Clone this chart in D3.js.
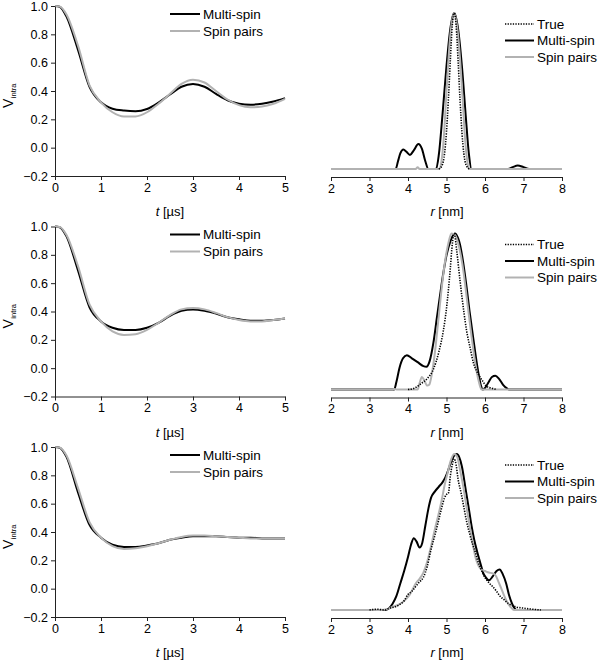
<!DOCTYPE html>
<html><head><meta charset="utf-8">
<script src="https://cdn.jsdelivr.net/npm/d3@7"></script>
<style>body{margin:0;background:#fff}svg{display:block}text{font-family:"Liberation Sans",Arial,sans-serif;fill:#000}</style>
</head><body>
<script>
// ---------- data ----------
const tValues = [0,0.1,0.25,0.5,0.75,1,1.25,1.5,1.75,2,2.25,2.5,2.75,3,3.25,3.5,3.75,4,4.25,4.5,4.75,5];
const multiSpinV = [
  [1,0.995,0.925,0.69,0.43,0.32,0.275,0.262,0.257,0.273,0.318,0.375,0.43,0.45,0.43,0.38,0.335,0.31,0.303,0.31,0.326,0.35],
  [1,0.995,0.93,0.69,0.43,0.33,0.285,0.27,0.27,0.285,0.32,0.37,0.405,0.415,0.405,0.385,0.36,0.345,0.335,0.335,0.34,0.35],
  [1,0.995,0.93,0.68,0.45,0.36,0.31,0.295,0.295,0.305,0.32,0.345,0.36,0.37,0.37,0.37,0.365,0.36,0.36,0.355,0.355,0.355]
];
const spinPairsV = [
  [1,0.997,0.94,0.72,0.44,0.32,0.25,0.22,0.22,0.25,0.31,0.38,0.45,0.48,0.46,0.40,0.34,0.30,0.285,0.29,0.31,0.345],
  [1,0.997,0.94,0.72,0.45,0.33,0.26,0.235,0.24,0.27,0.32,0.375,0.415,0.425,0.415,0.39,0.36,0.34,0.33,0.33,0.34,0.35],
  [1,0.997,0.94,0.71,0.47,0.36,0.30,0.28,0.285,0.30,0.32,0.345,0.365,0.375,0.375,0.37,0.365,0.36,0.355,0.355,0.355,0.355]
];
const trueP = [
  [[4.8,0],[4.88,0.02],[4.95,0.1],[5.0,0.24],[5.05,0.45],[5.1,0.7],[5.15,0.92],[5.2,1.0],[5.25,0.92],[5.3,0.7],[5.35,0.45],[5.4,0.24],[5.45,0.1],[5.52,0.02],[5.6,0]],
  [[4.0,0],[4.18,0.01],[4.35,0.04],[4.5,0.07],[4.66,0.13],[4.8,0.24],[4.92,0.38],[5.0,0.52],[5.05,0.64],[5.1,0.78],[5.15,0.93],[5.2,1.0],[5.27,0.88],[5.35,0.7],[5.45,0.5],[5.52,0.38],[5.62,0.26],[5.7,0.17],[5.8,0.11],[5.87,0.08],[5.95,0.05],[6.04,0.02],[6.15,0.01],[6.3,0]],
  [[3.0,0],[3.2,0.005],[3.4,0.0],[3.5,0.01],[3.75,0.03],[3.9,0.06],[4.0,0.1],[4.1,0.12],[4.2,0.15],[4.3,0.18],[4.4,0.21],[4.5,0.28],[4.6,0.39],[4.7,0.48],[4.8,0.58],[4.88,0.66],[4.95,0.72],[5.0,0.74],[5.05,0.75],[5.1,0.86],[5.15,0.93],[5.2,0.97],[5.25,0.93],[5.3,0.84],[5.38,0.75],[5.45,0.66],[5.52,0.57],[5.6,0.49],[5.68,0.42],[5.75,0.37],[5.82,0.31],[5.9,0.26],[5.97,0.22],[6.05,0.19],[6.12,0.17],[6.2,0.15],[6.3,0.12],[6.4,0.086],[6.5,0.065],[6.6,0.043],[6.7,0.03],[6.8,0.02],[7.0,0.012],[7.2,0.006],[7.45,0]]
];
const multiSpinP = [
  [[2,0],[3.68,0],[3.74,0.05],[3.8,0.1],[3.88,0.125],[3.96,0.11],[4.05,0.09],[4.15,0.12],[4.27,0.16],[4.36,0.13],[4.45,0.05],[4.53,0],[4.73,0],[4.8,0.09],[4.9,0.36],[5.0,0.66],[5.1,0.9],[5.2,1.0],[5.3,0.9],[5.4,0.66],[5.5,0.34],[5.58,0.1],[5.65,0],[6.6,0],[6.72,0.012],[6.85,0.022],[7.0,0.012],[7.15,0],[8,0]],
  [[2,0],[3.64,0],[3.7,0.05],[3.78,0.14],[3.87,0.2],[3.97,0.22],[4.1,0.2],[4.25,0.175],[4.4,0.15],[4.48,0.146],[4.56,0.18],[4.66,0.3],[4.75,0.46],[4.83,0.6],[4.92,0.75],[5.0,0.86],[5.1,0.95],[5.22,1.0],[5.3,0.97],[5.35,0.93],[5.43,0.82],[5.52,0.66],[5.6,0.5],[5.7,0.32],[5.78,0.18],[5.84,0.09],[5.9,0.02],[5.94,0],[6.0,0.01],[6.1,0.05],[6.18,0.08],[6.27,0.088],[6.36,0.07],[6.47,0.03],[6.58,0.005],[6.62,0],[8,0]],
  [[2,0],[3.4,0],[3.5,0.01],[3.6,0.04],[3.7,0.09],[3.8,0.17],[3.9,0.25],[4.0,0.34],[4.08,0.42],[4.15,0.46],[4.22,0.44],[4.3,0.4],[4.37,0.43],[4.45,0.54],[4.53,0.65],[4.6,0.72],[4.7,0.76],[4.8,0.79],[4.9,0.82],[4.97,0.85],[5.05,0.9],[5.12,0.95],[5.2,0.99],[5.27,1.0],[5.33,0.98],[5.4,0.92],[5.5,0.77],[5.58,0.65],[5.65,0.54],[5.72,0.45],[5.8,0.37],[5.88,0.3],[5.95,0.24],[6.02,0.21],[6.1,0.19],[6.2,0.215],[6.3,0.25],[6.38,0.26],[6.46,0.23],[6.55,0.17],[6.62,0.1],[6.7,0.043],[6.77,0.01],[6.82,0],[8,0]]
];
const spinPairsP = [
  [[2,0],[4.2,0],[4.25,0.012],[4.3,0],[4.82,0],[4.87,0.05],[4.93,0.2],[5.0,0.5],[5.1,0.86],[5.2,1.0],[5.3,0.86],[5.42,0.45],[5.48,0.2],[5.54,0.05],[5.58,0],[8,0]],
  [[2,0],[3.6,0],[3.64,0.004],[3.7,0],[4.25,0],[4.3,0.04],[4.36,0.08],[4.42,0.06],[4.5,0.025],[4.55,0.03],[4.62,0.1],[4.7,0.24],[4.79,0.45],[4.87,0.64],[4.95,0.8],[5.05,0.94],[5.13,1.0],[5.22,0.99],[5.3,0.94],[5.38,0.85],[5.45,0.74],[5.52,0.6],[5.61,0.42],[5.7,0.25],[5.78,0.12],[5.85,0.04],[5.91,0],[8,0]],
  [[2,0],[3.3,0],[3.45,0.005],[3.6,0.02],[3.8,0.04],[3.95,0.07],[4.05,0.1],[4.2,0.17],[4.3,0.2],[4.4,0.24],[4.5,0.31],[4.6,0.41],[4.7,0.52],[4.8,0.62],[4.88,0.71],[4.95,0.8],[5.03,0.88],[5.1,0.95],[5.2,1.0],[5.28,0.98],[5.35,0.9],[5.45,0.77],[5.52,0.66],[5.6,0.54],[5.68,0.43],[5.75,0.34],[5.82,0.29],[5.9,0.26],[6.0,0.25],[6.1,0.24],[6.2,0.235],[6.28,0.22],[6.35,0.18],[6.42,0.14],[6.5,0.09],[6.6,0.04],[6.68,0.015],[6.75,0],[8,0]]
];
const vTicks = [-0.2,0,0.2,0.4,0.6,0.8,1.0];
const tTicks = [0,1,2,3,4,5];
const rTicks = [2,3,4,5,6,7,8];
const leftLegend = ["Multi-spin","Spin pairs"];
const rightLegend = ["True","Multi-spin","Spin pairs"];

// ---------- drawing ----------
const W = 601, H = 660;
const svg = d3.select("body").append("svg").attr("width", W).attr("height", H);
const offsets = [0, 220.5, 441];
const GRAY = "#b2b2b2";
const fmt = d3.format(".1f");

offsets.forEach((off, i) => {
  // left panel
  const x = d3.scaleLinear().domain([0,5]).range([55,285]);
  const y = d3.scaleLinear().domain([-0.2,1]).range([176+off, 6+off]);
  const gL = svg.append("g");
  const line = d3.line().x(d => x(d[0])).y(d => y(d[1])).curve(d3.curveMonotoneX);
  gL.append("path").datum(tValues.map((t,k)=>[t, multiSpinV[i][k]]))
    .attr("d", line).attr("fill","none").attr("stroke","#000").attr("stroke-width",2);
  gL.append("path").datum(tValues.map((t,k)=>[t, spinPairsV[i][k]]))
    .attr("d", line).attr("fill","none").attr("stroke",GRAY).attr("stroke-width",2);

  const ax = gL.append("g").attr("transform",`translate(0,${176+off})`)
    .call(d3.axisBottom(x).tickValues(tTicks).tickSize(4).tickSizeOuter(0).tickPadding(3).tickFormat(d3.format("d")));
  const ay = gL.append("g").attr("transform","translate(55,0)")
    .call(d3.axisLeft(y).tickValues(vTicks).tickSize(4).tickSizeOuter(0).tickPadding(3).tickFormat(fmt));
  [ax, ay].forEach(a => {
    a.selectAll("text").attr("font-size","12.5px").attr("font-family",'"Liberation Sans",Arial,sans-serif');
    a.selectAll("path,line").attr("stroke","#222");
  });
  // axis label
  const tl = gL.append("text").attr("x",170).attr("y",216+off).attr("text-anchor","middle").attr("font-size","13px");
  tl.append("tspan").attr("font-style","italic").text("t");
  tl.append("tspan").text(" [µs]");
  const yl = gL.append("text").attr("transform",`translate(12.5,${108+off}) rotate(-90)`);
  yl.append("tspan").attr("font-size","14px").text("V");
  yl.append("tspan").attr("font-size","7.5px").attr("dy",3.5).attr("dx",0.5).text("intra");
  // legend
  leftLegend.forEach((name, k) => {
    const ly = 14 + 17*k + off;
    gL.append("line").attr("x1",170).attr("x2",200).attr("y1",ly).attr("y2",ly)
      .attr("stroke", k===0 ? "#000" : GRAY).attr("stroke-width",2);
    gL.append("text").attr("x",203).attr("y",ly+4.7).attr("font-size","13.5px").text(name);
  });

  // right panel
  const xr = d3.scaleLinear().domain([2,8]).range([331,562]);
  const yr = d3.scaleLinear().domain([0,1]).range([169+off, 13+off]);
  const gR = svg.append("g");
  const lr = d3.line().x(d => xr(d[0])).y(d => yr(d[1])).curve(d3.curveMonotoneX);
  gR.append("path").datum(multiSpinP[i]).attr("d", lr).attr("fill","none").attr("stroke","#000").attr("stroke-width",2);
  gR.append("path").datum(spinPairsP[i]).attr("d", lr).attr("fill","none").attr("stroke",GRAY).attr("stroke-width",2);
  gR.append("path").datum(trueP[i]).attr("d", lr).attr("fill","none").attr("stroke","#000").attr("stroke-width",1.6).attr("stroke-dasharray","1.3,1.3");
  const axr = gR.append("g").attr("transform",`translate(0,${177+off})`)
    .call(d3.axisBottom(xr).tickValues(rTicks).tickSize(4).tickSizeOuter(0).tickPadding(3).tickFormat(d3.format("d")));
  axr.selectAll("text").attr("font-size","12.5px").attr("font-family",'"Liberation Sans",Arial,sans-serif');
  axr.selectAll("path,line").attr("stroke","#222");
  const rl = gR.append("text").attr("x",447).attr("y",216+off).attr("text-anchor","middle").attr("font-size","13px");
  rl.append("tspan").attr("font-style","italic").text("r");
  rl.append("tspan").text(" [nm]");
  rightLegend.forEach((name, k) => {
    const ly = 24 + 16.5*k + off;
    const ln = gR.append("line").attr("x1",505).attr("x2",534).attr("y1",ly).attr("y2",ly);
    if (k===0) ln.attr("stroke","#000").attr("stroke-width",1.6).attr("stroke-dasharray","1.3,1.3");
    else ln.attr("stroke", k===1 ? "#000" : GRAY).attr("stroke-width",2);
    gR.append("text").attr("x",537).attr("y",ly+4.7).attr("font-size","13.5px").text(name);
  });
});
</script>
</body></html>
